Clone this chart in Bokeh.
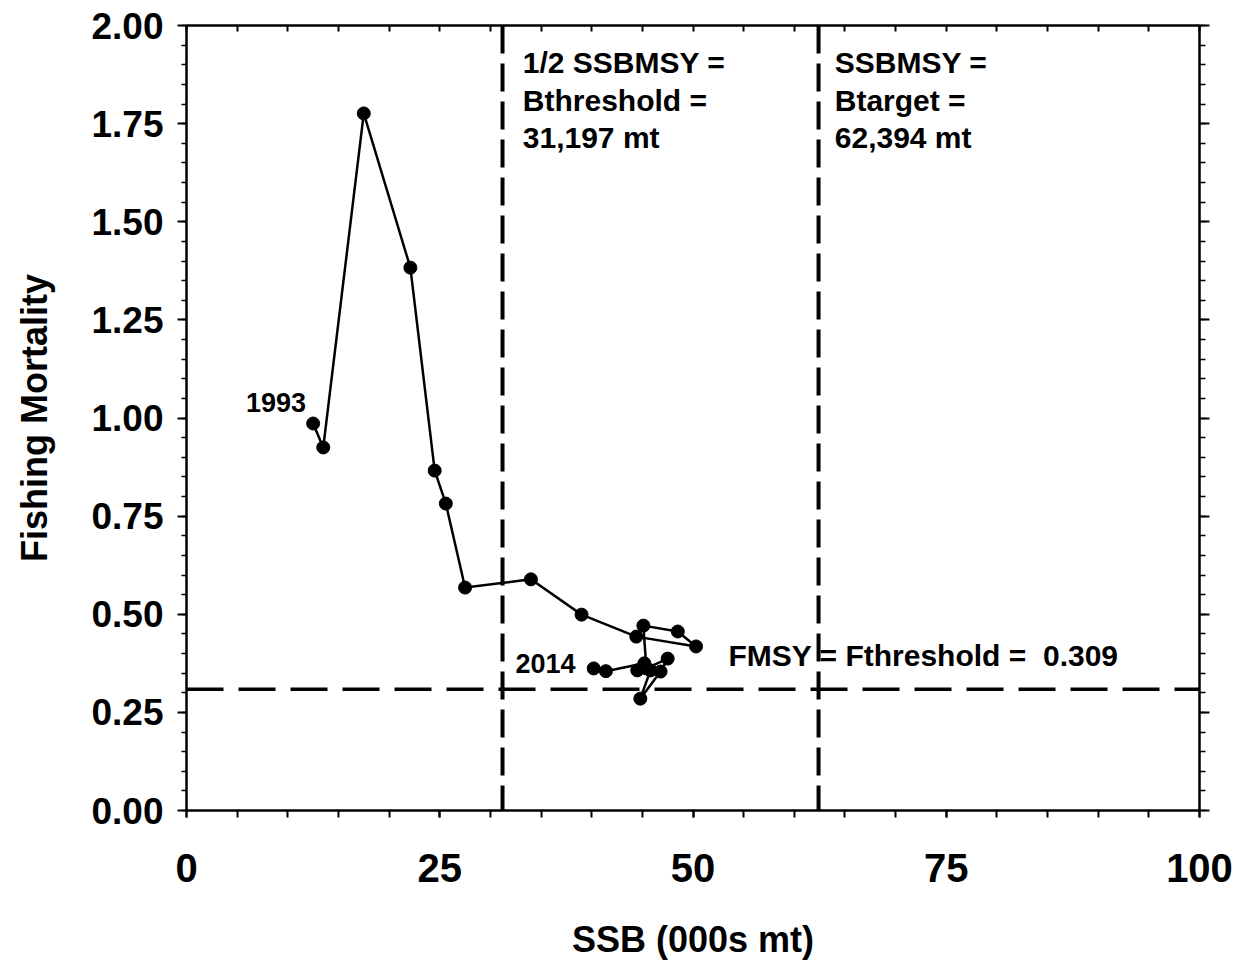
from bokeh.plotting import figure
from bokeh.models import Span, Label, LinearAxis, FixedTicker, ColumnDataSource, Range1d, CustomJSTickFormatter
from bokeh.embed import file_html
from bokeh.resources import INLINE

years = list(range(1993, 2015))
ssb = [12.5, 13.5, 17.5, 22.1, 24.5, 25.6, 27.5, 34.0, 39.0, 44.4,
       50.3, 48.5, 45.1, 45.4, 47.5, 46.8, 44.8, 45.8, 44.5, 45.2, 41.4, 40.2]
fmort = [0.986, 0.925, 1.776, 1.383, 0.866, 0.782, 0.568, 0.589, 0.499, 0.443,
         0.418, 0.456, 0.471, 0.362, 0.387, 0.354, 0.285, 0.357, 0.357, 0.375, 0.355, 0.362]

BTHRESH = 31.197
BTARGET = 62.394
FMSY = 0.309

x_major = [0, 25, 50, 75, 100]
x_minor = list(range(0, 101, 5))
y_major = [0.0, 0.25, 0.5, 0.75, 1.0, 1.25, 1.5, 1.75, 2.0]
y_minor = [round(i * 0.05, 2) for i in range(41)]

src = ColumnDataSource(dict(x=ssb, y=fmort, year=years))

p = figure(width=1236, height=950, output_backend="svg", toolbar_location=None,
           x_range=Range1d(0, 100), y_range=Range1d(0, 2.0),
           min_border_left=186, min_border_right=37, min_border_top=25, min_border_bottom=140)
p.frame_width = 1013
p.frame_height = 785
p.grid.visible = False
p.outline_line_color = "black"
p.outline_line_width = 2
p.background_fill_color = "white"
p.border_fill_color = "white"

FONT = "Liberation Sans"

# bottom axis
xa = p.xaxis[0]
xa.ticker = FixedTicker(ticks=x_major, minor_ticks=x_minor)
xa.axis_line_width = 2
xa.major_tick_line_width = 2
xa.minor_tick_line_width = 2
xa.major_tick_in = 0
xa.major_tick_out = 7
xa.minor_tick_in = 0
xa.minor_tick_out = 7
xa.major_label_text_font = FONT
xa.major_label_text_font_style = "bold"
xa.major_label_text_font_size = "40px"
xa.major_label_text_color = "black"
xa.major_label_standoff = 36
xa.axis_label = "SSB (000s mt)"
xa.axis_label_text_font = FONT
xa.axis_label_text_font_style = "bold"
xa.axis_label_text_font_size = "36px"
xa.axis_label_text_color = "black"
xa.axis_label_standoff = 34

# left axis
ya = p.yaxis[0]
ya.ticker = FixedTicker(ticks=y_major, minor_ticks=y_minor)
ya.axis_line_width = 2
ya.major_tick_line_width = 2
ya.minor_tick_line_width = 1.5
ya.major_tick_in = 0
ya.major_tick_out = 9
ya.minor_tick_in = 0
ya.minor_tick_out = 5
ya.major_label_text_font = FONT
ya.major_label_text_font_style = "bold"
ya.major_label_text_font_size = "37px"
ya.major_label_text_color = "black"
ya.major_label_standoff = 14
ya.formatter = CustomJSTickFormatter(code="return tick.toFixed(2);")
ya.axis_label = "Fishing Mortality"
ya.axis_label_text_font = FONT
ya.axis_label_text_font_style = "bold"
ya.axis_label_text_font_size = "36px"
ya.axis_label_text_color = "black"
ya.axis_label_standoff = 33

# right axis (ticks only)
ra = LinearAxis(ticker=FixedTicker(ticks=y_major, minor_ticks=y_minor))
ra.major_label_text_font_size = "0px"
ra.major_label_text_color = None
ra.axis_line_width = 2
ra.major_tick_line_width = 2
ra.minor_tick_line_width = 1.5
ra.major_tick_in = 0
ra.major_tick_out = 10
ra.minor_tick_in = 0
ra.minor_tick_out = 6
p.add_layout(ra, "right")

# top axis (ticks only)
ta = LinearAxis(ticker=FixedTicker(ticks=x_minor, minor_ticks=[]))
ta.major_label_text_font_size = "0px"
ta.major_label_text_color = None
ta.axis_line_width = 2
ta.major_tick_line_width = 2
ta.major_tick_in = 6
ta.major_tick_out = 0
p.add_layout(ta, "above")

# reference lines
p.add_layout(Span(location=BTHRESH, dimension="height", line_color="black",
                  line_width=4, line_dash="28 10"))
p.add_layout(Span(location=BTARGET, dimension="height", line_color="black",
                  line_width=4, line_dash="28 10"))
p.add_layout(Span(location=FMSY, dimension="width", line_color="black",
                  line_width=3.5, line_dash="37 15"))

# trajectory
p.line("x", "y", source=src, line_color="black", line_width=2.5)
p.scatter("x", "y", source=src, size=13, fill_color="black", line_color="black")

def lab(x, y, t, align="left", size="30px"):
    p.add_layout(Label(x=x, y=y, text=t, text_font=FONT, text_font_style="bold",
                       text_font_size=size, text_align=align, text_baseline="middle",
                       text_color="black"))

lab(BTHRESH + 2.0, 1.906, "1/2 SSBMSY =")
lab(BTHRESH + 2.0, 1.809, "Bthreshold =")
lab(BTHRESH + 2.0, 1.715, "31,197 mt")
lab(BTARGET + 1.6, 1.906, "SSBMSY =")
lab(BTARGET + 1.6, 1.809, "Btarget =")
lab(BTARGET + 1.6, 1.715, "62,394 mt")
lab(53.5, 0.395, "FMSY = Fthreshold =\u00a0 0.309")
lab(ssb[0] - 0.7, 1.04, str(years[0]), align="right", size="27px")
lab(ssb[-1] - 1.8, 0.375, str(years[-1]), align="right", size="27px")

open("out.html", "w").write(file_html(p, INLINE))
